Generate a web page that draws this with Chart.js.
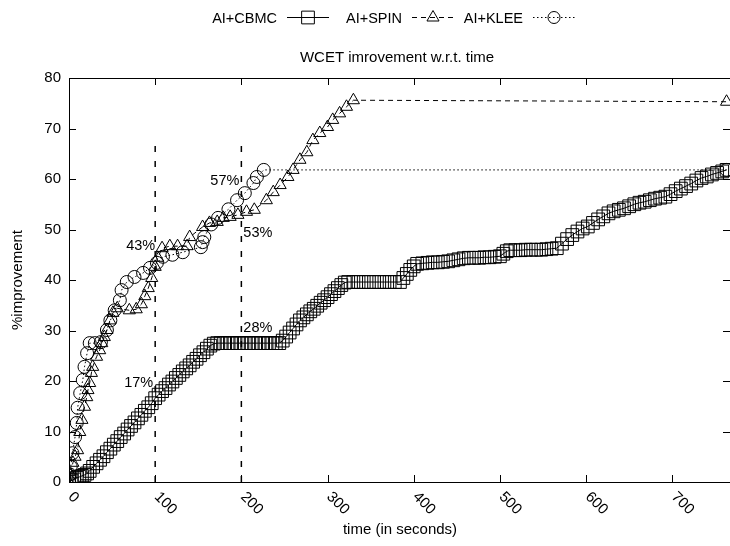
<!DOCTYPE html>
<html>
<head>
<meta charset="utf-8">
<script src="https://cdn.jsdelivr.net/npm/chart.js@4"></script>
<style>
  body { margin: 0; background: #fff; }
  canvas { display: block; }
</style>
</head>
<body>
<canvas id="wcetChart" width="730" height="546"></canvas>
<script>
// Values: time (s) vs % WCET improvement
const seriesNames = ["AI+CBMC", "AI+SPIN", "AI+KLEE"];

const cbmcTime = [0, 3, 6, 9, 12, 15, 18, 21, 24, 28, 32, 36, 40, 44, 48, 52, 56, 60, 64, 68,
  72, 76, 80, 84, 88, 92, 96, 100, 104, 108, 112, 116, 120, 124, 128, 132, 136, 140, 144, 148,
  152, 156, 160, 164, 168, 172, 176, 180, 184, 188, 192, 196, 200, 204, 208, 212, 216, 220, 224, 228,
  232, 236, 240, 244, 248, 252, 256, 260, 264, 268, 272, 276, 280, 284, 288, 292, 296, 300, 304, 308,
  312, 316, 320, 324, 330, 336, 342, 348, 354, 360, 366, 372, 378, 384, 388, 392, 396, 400, 404, 410,
  416, 422, 428, 434, 440, 446, 452, 458, 464, 470, 476, 482, 488, 494, 500, 504, 508, 512, 518, 524,
  530, 536, 542, 548, 554, 560, 566, 572, 578, 584, 590, 596, 602, 608, 614, 620, 626, 632, 638, 644,
  650, 656, 662, 668, 674, 680, 686, 692, 698, 704, 710, 716, 722, 728, 734, 740, 746, 752, 758, 763];
const cbmcImp = [0, 0.3, 0.5, 0.8, 1.0, 1.2, 1.4, 1.7, 2.2, 3.0, 3.7, 4.4, 5.1, 5.9, 6.6, 7.4, 8.1, 8.9, 9.6, 10.4,
  11.1, 11.8, 12.6, 13.3, 14.1, 14.8, 15.6, 16.6, 17.3, 18.0, 18.6, 19.3, 19.9, 20.6, 21.2, 21.9, 22.5, 23.1, 23.8, 24.4,
  25.1, 25.7, 26.4, 27.0, 27.4, 27.5, 27.5, 27.5, 27.5, 27.5, 27.5, 27.5, 27.5, 27.5, 27.5, 27.5, 27.5, 27.5, 27.5, 27.5,
  27.5, 27.5, 27.5, 27.5, 28.0, 28.8, 29.6, 30.4, 31.2, 32.0, 32.6, 33.2, 33.8, 34.3, 34.9, 35.5, 36.0, 36.6, 37.2, 37.8,
  38.4, 39.0, 39.5, 39.6, 39.6, 39.6, 39.6, 39.6, 39.6, 39.6, 39.6, 39.6, 39.6, 39.6, 40.4, 41.2, 42.0, 42.7, 43.2, 43.3,
  43.4, 43.5, 43.5, 43.6, 43.7, 43.9, 44.1, 44.3, 44.4, 44.4, 44.4, 44.5, 44.5, 44.6, 44.7, 45.2, 45.7, 45.9, 45.9, 45.9,
  46.0, 46.0, 46.0, 46.0, 46.1, 46.2, 46.3, 47.2, 48.1, 48.9, 49.6, 50.2, 50.6, 51.3, 52.0, 52.6, 53.2, 53.6, 53.9, 54.2,
  54.6, 55.0, 55.3, 55.5, 55.8, 56.1, 56.3, 56.5, 57.0, 57.6, 58.1, 58.6, 59.1, 59.7, 60.2, 60.5, 60.9, 61.2, 61.5, 61.8];

const spinTime = [0, 2, 4.5, 7, 10, 12.5, 15, 18, 20.6, 22, 24, 26, 27.5, 32, 35.6, 38, 41, 44, 47.5, 51,
  56, 70, 78, 84, 88, 92, 96, 100, 103, 108, 117, 126, 137, 140, 155, 163, 172, 179, 187, 196,
  206, 215, 229, 237, 245, 254, 260, 268, 276, 283, 291, 300, 306, 314, 322, 330, 763];
const spinImp = [0, 1.5, 3.8, 5.0, 6.3, 9.9, 12.3, 14.9, 16.8, 18.2, 19.6, 21.6, 22.8, 24.8, 26.1, 27.5, 28.7, 30.1, 32.0, 33.5,
  34.4, 34.0, 34.2, 35.2, 36.8, 38.4, 40.4, 42.6, 44.4, 46.3, 46.7, 46.7, 46.7, 48.5, 50.5, 51.3, 51.5, 52.3, 52.5, 52.9,
  53.5, 53.9, 55.8, 57.4, 58.8, 60.4, 61.8, 63.8, 65.3, 67.7, 69.1, 70.3, 71.7, 73.0, 74.3, 75.6, 75.3];

const kleeTime = [0, 1, 2, 4, 7, 9, 10, 13, 16, 18, 21, 24, 30, 37, 44, 48, 53, 59, 61, 67,
  76, 86, 94, 102, 109, 120, 132, 153, 155, 157, 165, 173, 185, 195, 204, 214, 218, 226, 763];
const kleeImp = [0, 1.5, 3.0, 5.7, 8.9, 11.7, 14.7, 17.6, 20.2, 22.8, 25.5, 27.5, 27.5, 27.7, 30.1, 32.0, 34.0, 36.0, 38.0, 39.6,
  40.6, 41.4, 42.4, 43.4, 44.6, 45.0, 45.5, 46.5, 47.5, 48.5, 51.0, 52.3, 54.0, 55.8, 57.2, 59.2, 60.4, 61.8, 61.8];

// dashed guide lines at these times, up to this value
const guideTimes = [100, 200];
const guideTop = 67.5;

// percentage notes: [time, value, text]
const notes = [[100, 17, "17%"], [100, 43, "43%"], [200, 57, "57%"], [200, 28, "28%"], [200, 53, "53%"]];

const xMax = 767;
const yMax = 80;

const FONT = '"Liberation Sans", Arial, Helvetica, sans-serif';
const toPoints = (xs, ys) => xs.map((x, i) => ({ x: x, y: ys[i] }));

function marker(ctx, style, r, x, y) {
  ctx.fillStyle = "rgba(0,0,0,0)";
  Chart.helpers.drawPoint(ctx, { pointStyle: style, radius: r, borderWidth: 1, rotation: 0 }, x, y);
}

const gnuplotLook = {
  id: "gnuplotLook",
  afterDraw(chart) {
    const { ctx, chartArea: a, scales } = chart;
    const xs = scales.x, ys = scales.y;
    ctx.save();
    ctx.strokeStyle = "#000";
    ctx.fillStyle = "#000";
    ctx.lineWidth = 1;

    // frame
    ctx.strokeRect(a.left + 0.5, a.top + 0.5, a.right - a.left, a.bottom - a.top);

    // inward ticks, mirrored
    ctx.beginPath();
    xs.ticks.forEach(t => {
      const px = Math.round(xs.getPixelForValue(t.value)) + 0.5;
      ctx.moveTo(px, a.bottom); ctx.lineTo(px, a.bottom - 7);
      ctx.moveTo(px, a.top); ctx.lineTo(px, a.top + 7);
    });
    ys.ticks.forEach(t => {
      const py = Math.round(ys.getPixelForValue(t.value)) + 0.5;
      ctx.moveTo(a.left, py); ctx.lineTo(a.left + 7, py);
      ctx.moveTo(a.right, py); ctx.lineTo(a.right - 7, py);
    });
    ctx.stroke();

    // rotated x tick labels
    ctx.font = "15px " + FONT;
    ctx.textAlign = "left";
    ctx.textBaseline = "middle";
    xs.ticks.forEach(t => {
      const px = xs.getPixelForValue(t.value);
      ctx.save();
      ctx.translate(px + 1.5, a.bottom + 12.5);
      ctx.rotate(Math.PI / 4);
      ctx.fillText(String(t.value), 0, 0);
      ctx.restore();
    });

    // axis titles
    ctx.textAlign = "center";
    ctx.textBaseline = "alphabetic";
    ctx.fillText("time (in seconds)", 400, 534);
    ctx.save();
    ctx.translate(22, 280);
    ctx.rotate(-Math.PI / 2);
    ctx.fillText("%improvement", 0, 0);
    ctx.restore();

    // title
    ctx.fillText("WCET imrovement w.r.t. time", 397, 62);

    // legend: text, then line sample with marker
    ctx.font = "14.5px " + FONT;
    const ends = [277, 402, 523];
    const dashes = [[], [5, 4], [1.5, 2.5]];
    const styles = [["rect", 9], ["triangle", 7], ["circle", 6]];
    seriesNames.forEach((name, i) => {
      const tx = ends[i], ly = 17.5;
      ctx.textAlign = "right";
      ctx.fillStyle = "#000";
      ctx.fillText(name, tx, 22.5);
      ctx.save();
      ctx.setLineDash(dashes[i]);
      ctx.beginPath();
      ctx.moveTo(tx + 10, ly);
      ctx.lineTo(tx + 52, ly);
      ctx.stroke();
      ctx.restore();
      marker(ctx, styles[i][0], styles[i][1], tx + 31, ly);
    });

    // percentage notes beside the guide lines
    ctx.fillStyle = "#000";
    ctx.font = "14.5px " + FONT;
    const place = { "17%": [-2, -9, "right"], "43%": [0, -15, "right"], "57%": [-2, -9, "right"],
      "28%": [2, -9, "left"], "53%": [2, 23, "left"] };
    notes.forEach(([t, v, text]) => {
      const p = place[text];
      ctx.textAlign = p[2];
      ctx.fillText(text, xs.getPixelForValue(t) + p[0], ys.getPixelForValue(v) + p[1]);
    });
    ctx.restore();
  }
};

const guideSets = guideTimes.map(t => ({
  label: "guide " + t,
  data: [{ x: t, y: 0 }, { x: t, y: guideTop }],
  showLine: true,
  borderColor: "#000",
  borderWidth: 1.5,
  borderDash: [6, 9],
  pointRadius: 0,
}));

new Chart(document.getElementById("wcetChart"), {
  type: "scatter",
  data: {
    datasets: [
      {
        label: seriesNames[0],
        data: toPoints(cbmcTime, cbmcImp),
        showLine: true,
        borderColor: "#000",
        borderWidth: 1,
        pointStyle: "rect",
        pointRadius: 9,
        pointBorderWidth: 1,
        pointBorderColor: "#000",
        pointBackgroundColor: "rgba(0,0,0,0)",
      },
      {
        label: seriesNames[1],
        data: toPoints(spinTime, spinImp),
        showLine: true,
        borderColor: "#000",
        borderWidth: 1,
        borderDash: [5, 4],
        pointStyle: "triangle",
        pointRadius: 7,
        pointBorderWidth: 1,
        pointBorderColor: "#000",
        pointBackgroundColor: "rgba(0,0,0,0)",
      },
      {
        label: seriesNames[2],
        data: toPoints(kleeTime, kleeImp),
        showLine: true,
        borderColor: "#000",
        borderWidth: 1,
        borderDash: [1.5, 2.5],
        pointStyle: "circle",
        pointRadius: 6.5,
        pointBorderWidth: 1,
        pointBorderColor: "#000",
        pointBackgroundColor: "rgba(0,0,0,0)",
      },
      ...guideSets,
    ],
  },
  options: {
    responsive: false,
    animation: false,
    devicePixelRatio: 1,
    layout: { autoPadding: false, padding: { top: 78, left: 0, right: 0, bottom: 0 } },
    plugins: {
      legend: { display: false },
      title: { display: false },
      tooltip: { enabled: false },
    },
    scales: {
      x: {
        type: "linear",
        min: 0,
        max: xMax,
        grid: { display: false, drawTicks: false },
        border: { display: false },
        ticks: { stepSize: 100, includeBounds: false, display: false },
        afterFit: s => { s.height = 64; },
      },
      y: {
        min: 0,
        max: yMax,
        grid: { display: false, drawTicks: false },
        border: { display: false },
        ticks: {
          stepSize: 10,
          padding: 8,
          color: "#000",
          font: { family: FONT, size: 15 },
        },
        afterFit: s => { s.width = 69; },
      },
    },
  },
  plugins: [gnuplotLook],
});
</script>
</body>
</html>
